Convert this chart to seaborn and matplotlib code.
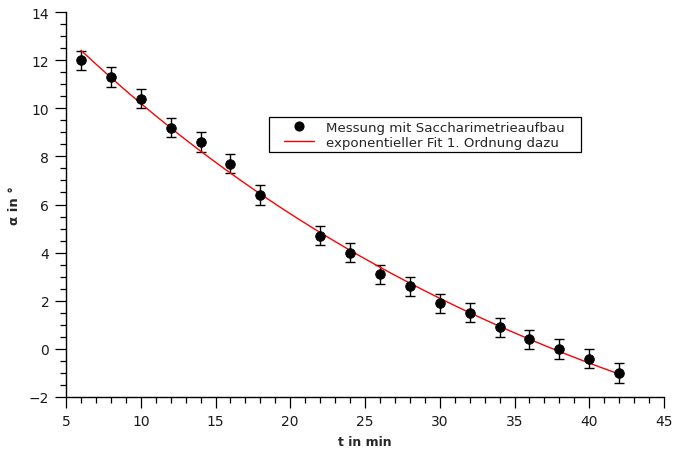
import numpy as np
import pandas as pd
import seaborn as sns
import matplotlib
matplotlib.use("Agg")
import matplotlib.pyplot as plt
from matplotlib.ticker import MultipleLocator
from matplotlib.lines import Line2D
from matplotlib.patches import Rectangle

# Measured rotation angle over time (saccharimetry)
t_min = [6, 8, 10, 12, 14, 16, 18, 22, 24, 26, 28, 30, 32, 34, 36, 38, 40, 42]
alpha_deg = [12.0, 11.3, 10.4, 9.2, 8.6, 7.7, 6.4, 4.7, 4.0, 3.1, 2.6, 1.9,
             1.5, 0.9, 0.4, 0.0, -0.4, -1.0]
alpha_err = [0.4] * len(t_min)

label_meas = "Messung mit Saccharimetrieaufbau"
label_fit = "exponentieller Fit 1. Ordnung dazu"

df = pd.DataFrame({"t": t_min, "alpha": alpha_deg, "err": alpha_err})

# First-order exponential fit: alpha = A * exp(-k t) + C
t_arr = df["t"].to_numpy(float)
y_arr = df["alpha"].to_numpy(float)
best = None
for k in np.linspace(0.001, 0.2, 4000):
    M = np.column_stack([np.exp(-k * t_arr), np.ones_like(t_arr)])
    coef, *_ = np.linalg.lstsq(M, y_arr, rcond=None)
    res = np.sum((M @ coef - y_arr) ** 2)
    if best is None or res < best[0]:
        best = (res, k, coef)
_, k_fit, (A_fit, C_fit) = best
t_fit = np.linspace(6, 42.3, 300)
fit_df = pd.DataFrame({"t": t_fit, "alpha": A_fit * np.exp(-k_fit * t_fit) + C_fit})

sns.set_theme(style="ticks")
plt.rcParams["font.family"] = ["DejaVu Sans"]

fig = plt.figure(figsize=(6.73, 4.52), dpi=100)
ax = fig.add_axes([66 / 673, 1 - 398 / 452, 598 / 673, 385 / 452])

sns.lineplot(data=fit_df, x="t", y="alpha", color="#ff0000", linewidth=1.0,
             ax=ax, zorder=3)
ax.errorbar(df["t"], df["alpha"], yerr=df["err"], fmt="none", ecolor="black",
            elinewidth=1.0, capsize=3.5, capthick=1.0, zorder=2)
sns.scatterplot(data=df, x="t", y="alpha", color="black", s=48, marker="o",
                edgecolor="black", linewidth=0.6, ax=ax, zorder=4)

ax.set_xlim(5, 45)
ax.set_ylim(-2, 14)
ax.xaxis.set_major_locator(MultipleLocator(5))
ax.xaxis.set_minor_locator(MultipleLocator(1))
ax.yaxis.set_major_locator(MultipleLocator(2))
ax.yaxis.set_minor_locator(MultipleLocator(0.5))
ax.tick_params(which="major", direction="out", length=8, width=0.9,
               labelsize=10, pad=4, color="black", labelcolor="#1a1a1a")
ax.tick_params(which="minor", direction="out", length=4.5, width=0.9,
               color="black")
for side in ("top", "right"):
    ax.spines[side].set_visible(False)
for side in ("left", "bottom"):
    ax.spines[side].set_linewidth(1.0)
    ax.spines[side].set_color("black")

ax.set_xlabel("t in min", fontsize=9, fontweight="bold", labelpad=5)
ax.set_ylabel("α in °", fontsize=9.5, fontweight="bold", labelpad=6)

# Legend: entries without frame, plus a plain rectangular box around them
handles = [
    Line2D([], [], marker="o", color="black", linestyle="none", markersize=6.3),
    Line2D([], [], color="#ff0000", linewidth=1.0),
]
leg = ax.legend(handles, [label_meas, label_fit], loc="center left",
                bbox_to_anchor=(0.364, 0.681), fontsize=9.6, frameon=False,
                borderpad=0, borderaxespad=0, handlelength=2.25,
                labelspacing=0.12, handletextpad=0.95)
ax.add_patch(Rectangle((0.339, 0.636), 0.522, 0.091, transform=ax.transAxes,
                       facecolor="white", edgecolor="black", linewidth=0.9,
                       zorder=5))
leg.set_zorder(6)

fig.savefig("out.png", dpi=100)
